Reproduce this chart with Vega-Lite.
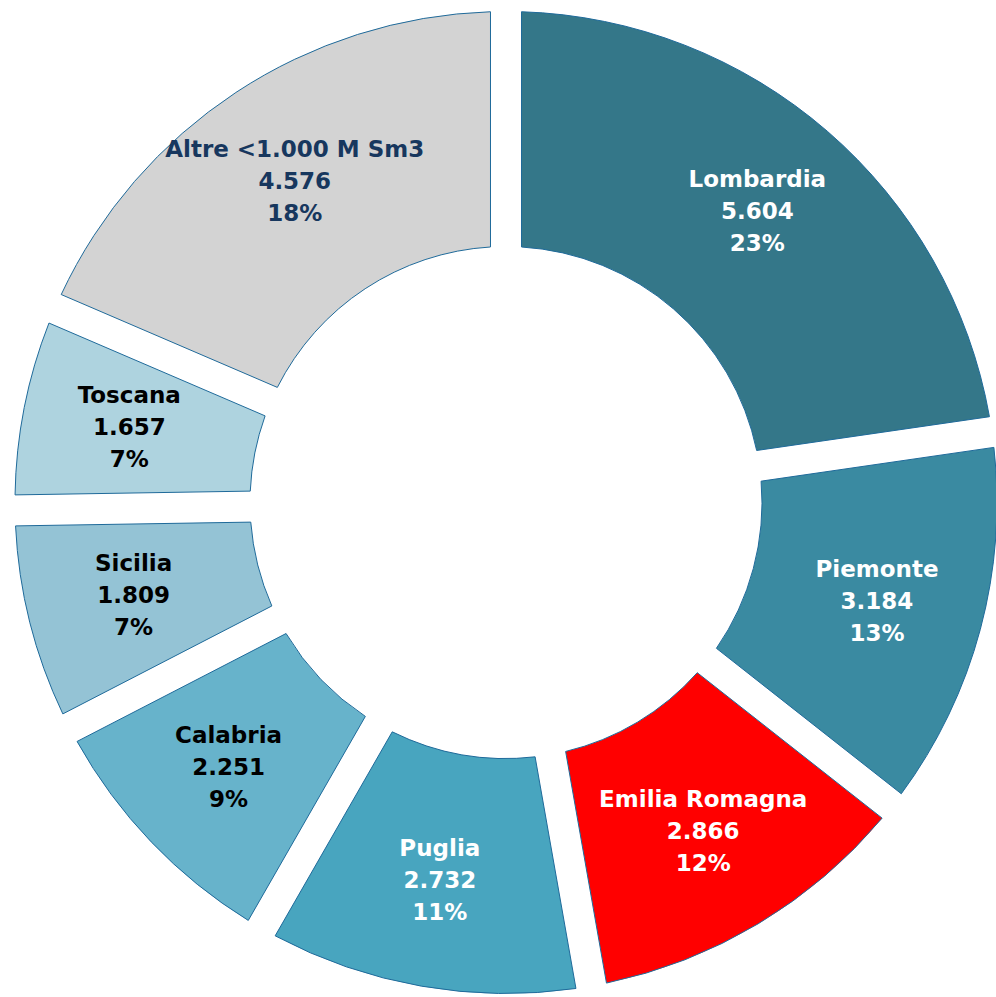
{
  "$schema": "https://vega.github.io/schema/vega-lite/v6.json",
  "width": 996,
  "height": 997,
  "autosize": {"type": "fit", "contains": "padding"},
  "padding": {"left": 16, "top": 8, "right": 0, "bottom": 0},
  "background": "white",
  "config": {
    "view": {"stroke": null},
    "locale": {"number": {"decimal": ",", "thousands": ".", "grouping": [3], "currency": ["€", ""]}}
  },
  "data": {
    "values": [
      {"Regione": "Lombardia", "Etichetta": "Lombardia", "Volume": 5604, "Quota": 0.23},
      {"Regione": "Piemonte", "Etichetta": "Piemonte", "Volume": 3184, "Quota": 0.13},
      {"Regione": "Emilia Romagna", "Etichetta": "Emilia Romagna", "Volume": 2866, "Quota": 0.12},
      {"Regione": "Puglia", "Etichetta": "Puglia", "Volume": 2732, "Quota": 0.11},
      {"Regione": "Calabria", "Etichetta": "Calabria", "Volume": 2251, "Quota": 0.09},
      {"Regione": "Sicilia", "Etichetta": "Sicilia", "Volume": 1809, "Quota": 0.07},
      {"Regione": "Toscana", "Etichetta": "Toscana", "Volume": 1657, "Quota": 0.07},
      {"Regione": "Altre", "Etichetta": "Altre <1.000 M Sm3", "Volume": 4576, "Quota": 0.18}
    ]
  },
  "transform": [
    {"window": [{"op": "row_number", "as": "ordine"}]}
  ],
  "encoding": {
    "theta": {"field": "Volume", "type": "quantitative", "stack": true},
    "order": {"field": "ordine", "type": "quantitative", "sort": "ascending"}
  },
  "layer": [
    {
      "mark": {"type": "arc", "innerRadius": 256, "outerRadius": 491, "padAngle": 0.056, "stroke": "#1f6a9a", "strokeWidth": 1},
      "encoding": {
        "color": {
          "field": "Regione",
          "type": "nominal",
          "legend": null,
          "scale": {
            "domain": ["Lombardia", "Piemonte", "Emilia Romagna", "Puglia", "Calabria", "Sicilia", "Toscana", "Altre"],
            "range": ["#347789", "#3a8aa1", "#ff0000", "#48a5bf", "#67b3cb", "#94c3d5", "#aed3df", "#d3d3d3"]
          }
        }
      }
    },
    {
      "mark": {"type": "text", "radius": 384, "dy": -32, "font": "DejaVu Sans", "fontWeight": "bold", "fontSize": 23, "align": "center", "baseline": "middle"},
      "encoding": {
        "text": {"field": "Etichetta", "type": "nominal"},
        "color": {
          "condition": [
            {"test": "indexof(['Calabria','Sicilia','Toscana'], datum.Regione) >= 0", "value": "#000000"},
            {"test": "datum.Regione === 'Altre'", "value": "#17375e"}
          ],
          "value": "#ffffff"
        }
      }
    },
    {
      "mark": {"type": "text", "radius": 384, "dy": 0, "font": "DejaVu Sans", "fontWeight": "bold", "fontSize": 23, "align": "center", "baseline": "middle"},
      "encoding": {
        "text": {"field": "Volume", "type": "quantitative", "format": ",d"},
        "color": {
          "condition": [
            {"test": "indexof(['Calabria','Sicilia','Toscana'], datum.Regione) >= 0", "value": "#000000"},
            {"test": "datum.Regione === 'Altre'", "value": "#17375e"}
          ],
          "value": "#ffffff"
        }
      }
    },
    {
      "mark": {"type": "text", "radius": 384, "dy": 32, "font": "DejaVu Sans", "fontWeight": "bold", "fontSize": 23, "align": "center", "baseline": "middle"},
      "encoding": {
        "text": {"field": "Quota", "type": "quantitative", "format": ".0%"},
        "color": {
          "condition": [
            {"test": "indexof(['Calabria','Sicilia','Toscana'], datum.Regione) >= 0", "value": "#000000"},
            {"test": "datum.Regione === 'Altre'", "value": "#17375e"}
          ],
          "value": "#ffffff"
        }
      }
    }
  ]
}
